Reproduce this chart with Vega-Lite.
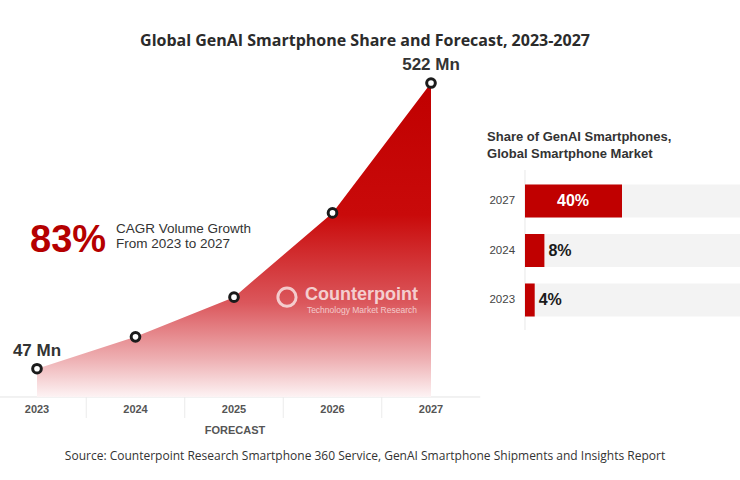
{
  "$schema": "https://vega.github.io/schema/vega-lite/v6.json",
  "width": 740,
  "height": 425,
  "padding": {"left": 0, "right": 0, "top": 55, "bottom": 0},
  "autosize": {"type": "none"},
  "background": "white",
  "title": {"text": "Global GenAI Smartphone Share and Forecast, 2023-2027", "font": "Open Sans", "fontSize": 16, "fontWeight": "bold", "color": "#2b2b2b", "anchor": "middle", "offset": 6, "dx": -5},
  "config": {"view": {"stroke": null}, "axis": {"disable": true}, "text": {"font": "Liberation Sans"}},
  "datasets": {
    "volume": [
      {"year": 2023, "units": 47, "label": "47 Mn"},
      {"year": 2024, "units": 100, "label": ""},
      {"year": 2025, "units": 166, "label": ""},
      {"year": 2026, "units": 306, "label": ""},
      {"year": 2027, "units": 522, "label": "522 Mn"}
    ],
    "share": [
      {"year": "2027", "share": 0.40, "label": "40%"},
      {"year": "2024", "share": 0.08, "label": "8%"},
      {"year": "2023", "share": 0.04, "label": "4%"}
    ]
  },
  "layer": [
    {
      "data": {"name": "volume"},
      "layer": [
        {
          "data": {"values": [{"note": "axis band"}]},
          "mark": {"type": "rule", "color": "#e4e4e4", "strokeWidth": 1},
          "encoding": {
            "x": {"datum": 2022.6244, "type": "quantitative", "scale": {"domain": [2022.6244, 2030.137], "nice": false, "zero": false}},
            "x2": {"datum": 2027.5},
            "y": {"datum": 0, "type": "quantitative", "scale": {"domain": [-138, 568.6], "nice": false, "zero": false}}
          }
        },
        {
          "transform": [{"filter": "datum.year < 2027"}],
          "mark": {"type": "rule", "color": "#ebebeb", "strokeWidth": 1, "xOffset": 49.25},
          "encoding": {
            "x": {"field": "year", "type": "quantitative"},
            "y": {"datum": 0, "type": "quantitative"},
            "y2": {"datum": -35}
          }
        },
        {
          "mark": {"type": "area", "interpolate": "linear", "color": {"gradient": "linear", "x1": 0, "y1": 0, "x2": 0, "y2": 1, "stops": [
            {"offset": 0, "color": "#c00000"},
            {"offset": 0.42, "color": "#c90a0a"},
            {"offset": 0.7, "color": "#db575c"},
            {"offset": 0.88, "color": "#eeb0b3"},
            {"offset": 1, "color": "#fdf3f4"}
          ]}},
          "encoding": {
            "x": {"field": "year", "type": "quantitative"},
            "y": {"field": "units", "type": "quantitative"}
          }
        },
        {
          "mark": {"type": "point", "shape": "circle", "filled": true, "fill": "#ffffff", "stroke": "#1b1b1b", "strokeWidth": 3, "size": 75, "opacity": 1},
          "encoding": {
            "x": {"field": "year", "type": "quantitative"},
            "y": {"field": "units", "type": "quantitative"}
          }
        },
        {
          "mark": {"type": "text", "fontSize": 17, "fontWeight": "bold", "color": "#333333", "align": "center", "baseline": "middle", "dy": -18},
          "encoding": {
            "x": {"field": "year", "type": "quantitative"},
            "y": {"field": "units", "type": "quantitative"},
            "text": {"field": "label"}
          }
        },
        {
          "mark": {"type": "text", "fontSize": 11, "fontWeight": "bold", "color": "#555555", "align": "center", "baseline": "middle"},
          "encoding": {
            "x": {"field": "year", "type": "quantitative"},
            "y": {"datum": -21.6, "type": "quantitative"},
            "text": {"field": "year", "type": "nominal"}
          }
        },
        {
          "data": {"values": [{"note": "FORECAST"}]},
          "mark": {"type": "text", "fontSize": 11, "fontWeight": "bold", "color": "#555555", "align": "center", "baseline": "middle", "letterSpacing": 0.5},
          "encoding": {
            "x": {"datum": 2025.01, "type": "quantitative"},
            "y": {"datum": -56.5, "type": "quantitative"},
            "text": {"field": "note"}
          }
        },
        {
          "data": {"values": [{"note": "83%"}]},
          "mark": {"type": "text", "fontSize": 38, "fontWeight": "bold", "color": "#b50000", "align": "left", "baseline": "alphabetic"},
          "encoding": {
            "x": {"datum": 2022.93, "type": "quantitative"},
            "y": {"datum": 241, "type": "quantitative"},
            "text": {"field": "note"}
          }
        },
        {
          "data": {"values": [{"note": "CAGR"}]},
          "mark": {"type": "text", "fontSize": 13.5, "color": "#333333", "align": "left", "baseline": "alphabetic", "lineHeight": 15, "text": ["CAGR Volume Growth", "From 2023 to 2027"]},
          "encoding": {
            "x": {"datum": 2023.802, "type": "quantitative"},
            "y": {"datum": 272.6, "type": "quantitative"}
          }
        },
        {
          "data": {"values": [{"note": "logo"}]},
          "mark": {"type": "point", "shape": "circle", "filled": false, "stroke": "#ffffff", "strokeWidth": 3, "size": 330, "opacity": 0.7},
          "encoding": {
            "x": {"datum": 2025.538, "type": "quantitative"},
            "y": {"datum": 166, "type": "quantitative"}
          }
        },
        {
          "data": {"values": [{"note": "Counterpoint"}]},
          "mark": {"type": "text", "fontSize": 18, "fontWeight": "bold", "color": "#ffffff", "opacity": 0.72, "align": "left", "baseline": "alphabetic"},
          "encoding": {
            "x": {"datum": 2025.72, "type": "quantitative"},
            "y": {"datum": 162, "type": "quantitative"},
            "text": {"field": "note"}
          }
        },
        {
          "data": {"values": [{"note": "Technology Market Research"}]},
          "mark": {"type": "text", "fontSize": 8.5, "color": "#ffffff", "opacity": 0.65, "align": "left", "baseline": "alphabetic"},
          "encoding": {
            "x": {"datum": 2025.74, "type": "quantitative"},
            "y": {"datum": 139.6, "type": "quantitative"},
            "text": {"field": "note"}
          }
        },
        {
          "data": {"values": [{"note": "logo"}]},
          "mark": {"type": "point", "shape": "circle", "filled": false, "stroke": "#d0d0d0", "strokeWidth": 2.5, "size": 180, "opacity": 1},
          "encoding": {
            "x": {"datum": 2029.142, "type": "quantitative"},
            "y": {"datum": 249.4, "type": "quantitative"}
          }
        },
        {
          "data": {"values": [{"note": "Counterpoint"}]},
          "mark": {"type": "text", "fontSize": 12, "fontWeight": "bold", "color": "#cccccc", "align": "left", "baseline": "alphabetic"},
          "encoding": {
            "x": {"datum": 2029.274, "type": "quantitative"},
            "y": {"datum": 246, "type": "quantitative"},
            "text": {"field": "note"}
          }
        },
        {
          "data": {"values": [{"note": "Technology Market Research"}]},
          "mark": {"type": "text", "fontSize": 5.5, "color": "#d0d0d0", "align": "left", "baseline": "alphabetic"},
          "encoding": {
            "x": {"datum": 2029.28, "type": "quantitative"},
            "y": {"datum": 233, "type": "quantitative"},
            "text": {"field": "note"}
          }
        },
        {
          "data": {"values": [{"note": "right title"}]},
          "mark": {"type": "text", "fontSize": 13, "fontWeight": "bold", "color": "#333333", "align": "left", "baseline": "alphabetic", "lineHeight": 17, "text": ["Share of GenAI Smartphones,", "Global Smartphone Market"]},
          "encoding": {
            "x": {"datum": 2027.569, "type": "quantitative"},
            "y": {"datum": 425.6, "type": "quantitative"}
          }
        },
        {
          "data": {"values": [{"note": "bar axis"}]},
          "mark": {"type": "rule", "color": "#e8e8e8", "strokeWidth": 1},
          "encoding": {
            "x": {"datum": 2027.954, "type": "quantitative"},
            "y": {"datum": 377.4, "type": "quantitative"},
            "y2": {"datum": 111.4}
          }
        },
        {
          "data": {"values": [{"note": "Source: Counterpoint Research Smartphone 360 Service, GenAI Smartphone Shipments and Insights Report"}]},
          "mark": {"type": "text", "fontSize": 12, "font": "Open Sans", "color": "#333333", "align": "center", "baseline": "middle"},
          "encoding": {
            "x": {"datum": 2026.33, "type": "quantitative"},
            "y": {"datum": -98.1, "type": "quantitative"},
            "text": {"field": "note"}
          }
        }
      ]
    },
    {
      "data": {"name": "share"},
      "layer": [
        {
          "mark": {"type": "bar", "color": "#f3f3f3", "clip": true},
          "encoding": {
            "x": {"datum": 1, "type": "quantitative", "scale": {"domain": [-2.165, 0.8866], "nice": false, "zero": false}},
            "y": {"field": "year", "type": "nominal", "sort": ["2027", "2024", "2023"], "scale": {"range": [121.25, 269.75], "paddingInner": 0.333, "paddingOuter": 0.1667}}
          }
        },
        {
          "mark": {"type": "bar", "color": "#c00000"},
          "encoding": {
            "x": {"field": "share", "type": "quantitative"},
            "y": {"field": "year", "type": "nominal", "sort": ["2027", "2024", "2023"]}
          }
        },
        {
          "transform": [{"filter": "datum.share >= 0.2"}],
          "mark": {"type": "text", "fontSize": 16, "fontWeight": "bold", "color": "#ffffff", "align": "center", "baseline": "middle", "dx": -49},
          "encoding": {
            "x": {"field": "share", "type": "quantitative"},
            "y": {"field": "year", "type": "nominal", "sort": ["2027", "2024", "2023"]},
            "text": {"field": "label"}
          }
        },
        {
          "transform": [{"filter": "datum.share < 0.2"}],
          "mark": {"type": "text", "fontSize": 16, "fontWeight": "bold", "color": "#1a1a1a", "align": "left", "baseline": "middle", "dx": 4},
          "encoding": {
            "x": {"field": "share", "type": "quantitative"},
            "y": {"field": "year", "type": "nominal", "sort": ["2027", "2024", "2023"]},
            "text": {"field": "label"}
          }
        },
        {
          "mark": {"type": "text", "fontSize": 11.5, "color": "#444444", "align": "right", "baseline": "middle"},
          "encoding": {
            "x": {"datum": -0.041, "type": "quantitative"},
            "y": {"field": "year", "type": "nominal", "sort": ["2027", "2024", "2023"]},
            "text": {"field": "year"}
          }
        }
      ]
    }
  ],
  "resolve": {"scale": {"x": "independent", "y": "independent"}}
}
